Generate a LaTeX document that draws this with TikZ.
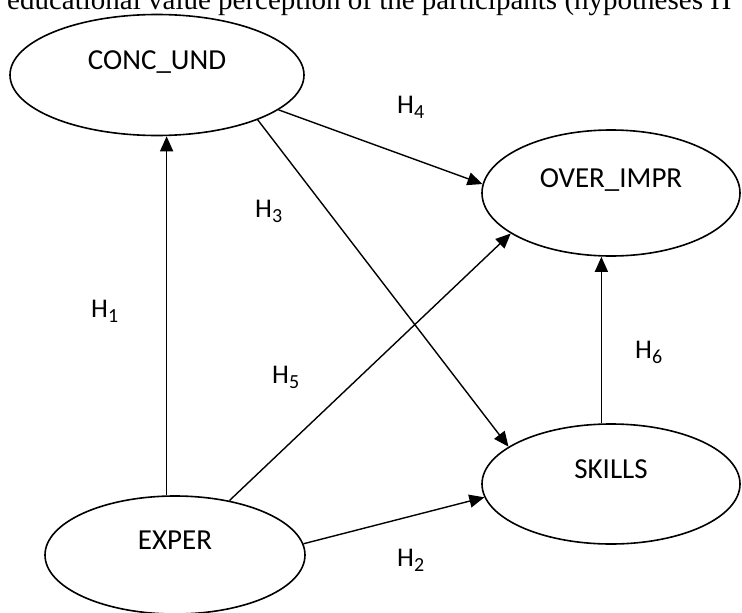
\documentclass[tikz,border=0pt]{standalone}
\usepackage{fontspec}
\setmainfont{Carlito}
\newfontfamily\captionserif{Liberation Serif}
\usetikzlibrary{shapes.geometric}
\usetikzlibrary{arrows.meta}
\newcommand{\hypsub}[1]{H\raisebox{-5pt}{\fontsize{20}{20}\selectfont #1}}
\tikzset{
    construct/.style = {draw, ellipse, line width=1.6pt,
                        minimum width=258pt, minimum height=121pt,
                        text height=20pt, text depth=32pt,
                        font=\fontsize{29}{34}\selectfont
    },
    hypothesis arrow/.style = {-{Triangle[length=15pt, width=13pt]},
                               line width=1.4pt
    },
    hypothesis label/.style = {anchor=base west, inner sep=0pt,
                               font=\fontsize{27}{32}\selectfont
    },
    caption text/.style = {anchor=base west, inner sep=0pt,
                           font=\captionserif\fontsize{29}{34}\selectfont
    },
}

\begin{document}
\begin{tikzpicture}[x=1pt, y=-1pt]
    \useasboundingbox (0,0) rectangle (742,613);
    \clip (0,0) rectangle (742,613);
    \node (caption) [caption text] at (7,9.5)
          {educational value perception of the participants (hypotheses H};
    % constructs
    \node (conc) [construct, minimum width=294pt] at (157,75) {CONC\_UND};
    \node (over) [construct, minimum height=126pt] at (611,193) {OVER\_IMPR};
    \node (skills) [construct, minimum height=120pt] at (611,484) {SKILLS};
    \node (exper) [construct, minimum width=260pt, minimum height=118pt]
          at (175,555) {EXPER};
    % hypotheses
    \draw[hypothesis arrow] (exper.98) -- (exper.98 |- conc.south);
    \draw[hypothesis arrow] (exper.5) -- (skills.-174);
    \draw[hypothesis arrow] (conc.-24) -- (skills.160);
    \draw[hypothesis arrow] (conc.-16) -- (over.176);
    \draw[hypothesis arrow] (exper.45) -- (over.-158);
    \draw[hypothesis arrow] (skills.99) -- (skills.99 |- over.south);
    \node (h1) [hypothesis label] at (91,317) {\hypsub{1}};
    \node (h2) [hypothesis label] at (397,566) {\hypsub{2}};
    \node (h3) [hypothesis label] at (255,217) {\hypsub{3}};
    \node (h4) [hypothesis label] at (397,113) {\hypsub{4}};
    \node (h5) [hypothesis label] at (272,383) {\hypsub{5}};
    \node (h6) [hypothesis label] at (635,358) {\hypsub{6}};
\end{tikzpicture}
\end{document}
